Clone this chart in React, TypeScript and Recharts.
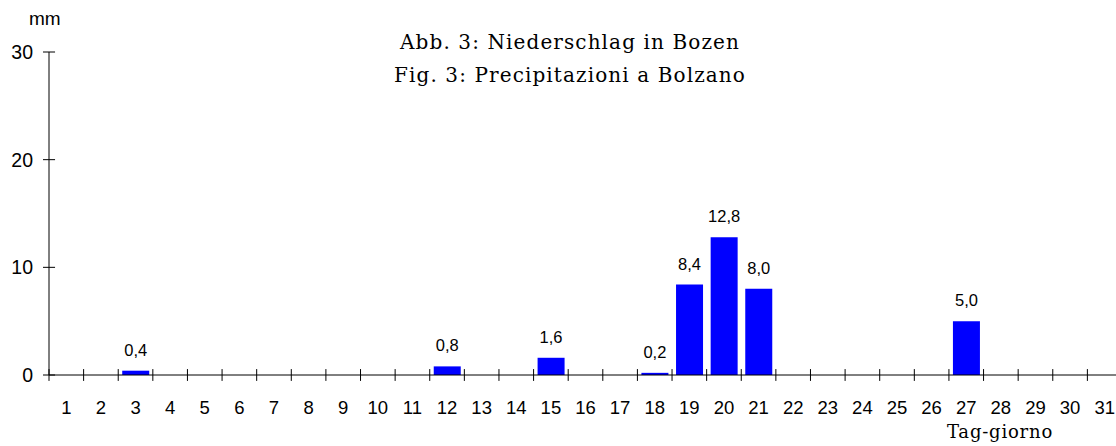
import { BarChart, Bar, XAxis, YAxis, ReferenceLine, LabelList } from "recharts";

const days = Array.from({ length: 31 }, (_, i) => i + 1);
// Niederschlag (mm) je Tag, nur Tage mit Regen
const rainDays = [3, 12, 15, 18, 19, 20, 21, 27];
const rainValues = [0.4, 0.8, 1.6, 0.2, 8.4, 12.8, 8.0, 5.0];
const yTicks = [0, 10, 20, 30];

const data = days.map((d) => {
  const idx = rainDays.indexOf(d);
  return { day: d, mm: idx >= 0 ? rainValues[idx] : 0 };
});

const dayBounds = Array.from({ length: 32 }, (_, i) => i + 0.5);

const sans = "'Liberation Sans', Arial, sans-serif";
const serif = "'DejaVu Serif', serif";

export default function App() {
  return (
    <div
      style={{
        position: "absolute",
        left: 0,
        top: 0,
        width: 1116,
        height: 446,
        overflow: "hidden",
        background: "#fff",
      }}
    >
      {/* Plot läuft rechts etwas über den Bildrand hinaus */}
      <BarChart
        width={1122}
        height={446}
        data={data}
        margin={{ top: 52, right: 0, bottom: 0, left: 0 }}
      >
        <XAxis
          dataKey="day"
          type="number"
          domain={[0.5, 31.5]}
          ticks={days}
          interval={0}
          height={71}
          tickLine={false}
          tickSize={0}
          tickMargin={26}
          axisLine={{ stroke: "#000" }}
          tick={{ fill: "#000", fontSize: 18.5, fontFamily: sans }}
        />
        <YAxis
          domain={[0, 30]}
          ticks={yTicks}
          width={49}
          tickSize={6}
          tickMargin={10}
          axisLine={{ stroke: "#000" }}
          tickLine={{ stroke: "#000" }}
          tick={{ fill: "#000", fontSize: 19.5, fontFamily: sans }}
        />
        {dayBounds.map((b) => (
          <ReferenceLine
            key={"x" + b}
            segment={[{ x: b, y: -0.55 }, { x: b, y: 0.55 }]}
            stroke="#000"
            ifOverflow="visible"
          />
        ))}
        {yTicks.map((t) => (
          <ReferenceLine
            key={"y" + t}
            segment={[{ x: 0.5, y: t }, { x: 0.675, y: t }]}
            stroke="#000"
            ifOverflow="visible"
          />
        ))}
        <Bar dataKey="mm" fill="#0000ff" barSize={27} isAnimationActive={false}>
          <LabelList
            dataKey="mm"
            position="top"
            offset={15}
            fill="#000"
            fontSize={16.5}
            fontFamily={sans}
            formatter={(v: any) => (v > 0 ? Number(v).toFixed(1).replace(".", ",") : "")}
          />
        </Bar>
      </BarChart>
      <div style={{ position: "absolute", left: 29, top: 9, fontFamily: sans, fontSize: 19, lineHeight: 1 }}>mm</div>
      <div
        style={{
          position: "absolute",
          left: 320,
          width: 500,
          top: 26,
          textAlign: "center",
          fontFamily: serif,
          fontSize: 20,
          letterSpacing: 1.1,
          lineHeight: "33px",
        }}
      >
        Abb. 3: Niederschlag in Bozen
        <br />
        Fig. 3: Precipitazioni a Bolzano
      </div>
      <div
        style={{
          position: "absolute",
          left: 900,
          width: 200,
          top: 423,
          textAlign: "center",
          fontFamily: serif,
          fontSize: 18,
          letterSpacing: 0.8,
          lineHeight: 1,
        }}
      >
        Tag-giorno
      </div>
    </div>
  );
}
